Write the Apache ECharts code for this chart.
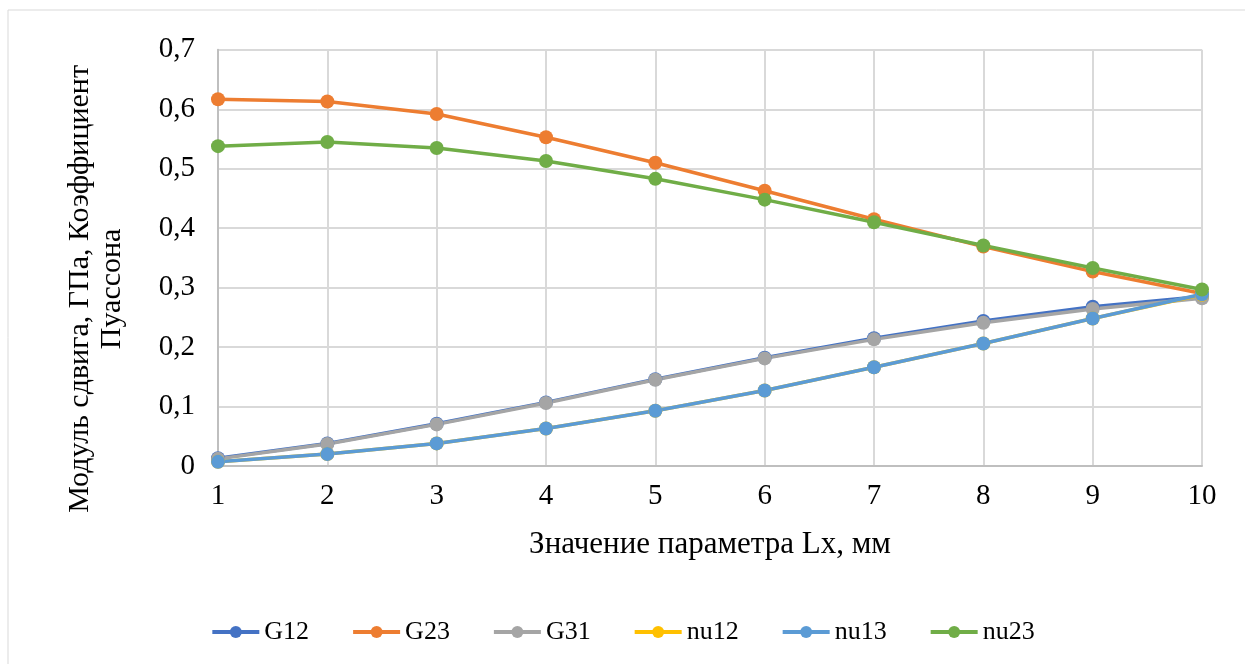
<!DOCTYPE html>
<html>
<head>
<meta charset="utf-8">
<script src="https://cdn.jsdelivr.net/npm/echarts@6/dist/echarts.min.js"></script>
<style>
  html, body { margin: 0; padding: 0; background: #fff; }
  #chart { width: 1245px; height: 664px; }
</style>
</head>
<body>
<div id="chart"></div>
<script>
// значения параметра Lx, мм
const lx = ['1', '2', '3', '4', '5', '6', '7', '8', '9', '10'];

const g12  = [0.013, 0.038, 0.071, 0.107, 0.146, 0.182, 0.215, 0.244, 0.268, 0.285];
const g23  = [0.617, 0.613, 0.592, 0.553, 0.510, 0.463, 0.415, 0.369, 0.327, 0.290];
const g31  = [0.012, 0.037, 0.070, 0.106, 0.145, 0.181, 0.213, 0.241, 0.264, 0.282];
const nu12 = [0.007, 0.020, 0.038, 0.063, 0.093, 0.127, 0.166, 0.206, 0.248, 0.288];
const nu13 = [0.007, 0.020, 0.038, 0.063, 0.093, 0.127, 0.166, 0.206, 0.248, 0.289];
const nu23 = [0.538, 0.545, 0.535, 0.513, 0.483, 0.448, 0.410, 0.371, 0.333, 0.297];

const names  = ['G12', 'G23', 'G31', 'nu12', 'nu13', 'nu23'];
const colors = ['#4472C4', '#ED7D31', '#A5A5A5', '#FFC000', '#5B9BD5', '#70AD47'];
const values = [g12, g23, g31, nu12, nu13, nu23];

const font = '"Liberation Serif", "Times New Roman", serif';

const chart = echarts.init(document.getElementById('chart'), null, { renderer: 'canvas' });

const option = {
  backgroundColor: '#fff',
  animation: false,
  color: colors,
  textStyle: { fontFamily: font },
  graphic: [{
    type: 'rect',
    shape: { x: 8, y: 10, width: 1250, height: 670 },
    style: { fill: 'none', stroke: '#D9D9D9', lineWidth: 1 },
    silent: true
  }],
  grid: { left: 218, right: 43, top: 45, bottom: 198 },
  legend: {
    bottom: 14,
    left: 'center',
    itemWidth: 47,
    itemHeight: 15,
    itemGap: 42,
    lineStyle: { width: 4 },
    textStyle: { fontFamily: font, fontSize: 26, color: '#000' },
    data: names
  },
  xAxis: {
    type: 'category',
    data: lx,
    boundaryGap: false,
    name: 'Значение параметра Lx, мм',
    nameLocation: 'middle',
    nameGap: 63,
    nameTextStyle: { fontFamily: font, fontSize: 31, color: '#000' },
    axisLine: { lineStyle: { color: '#BFBFBF', width: 2 } },
    axisTick: { show: false },
    axisLabel: { fontFamily: font, fontSize: 29, color: '#000', margin: 16 },
    splitLine: { show: true, lineStyle: { color: '#D9D9D9', width: 2 } }
  },
  yAxis: {
    type: 'value',
    min: 0,
    max: 0.7,
    interval: 0.1,
    name: 'Модуль сдвига, ГПа, Коэффициент\nПуассона',
    nameLocation: 'middle',
    nameGap: 90,
    nameRotate: 90,
    nameTextStyle: {
      fontFamily: font, fontSize: 30, color: '#000', lineHeight: 32,
      padding: [0, 62, 0, 0]
    },
    axisLine: { show: true, lineStyle: { color: '#BFBFBF', width: 2 } },
    axisTick: { show: false },
    axisLabel: {
      fontFamily: font, fontSize: 29, color: '#000', margin: 23,
      formatter: v => String(Math.round(v * 10) / 10).replace('.', ',')
    },
    splitLine: { show: true, lineStyle: { color: '#D9D9D9', width: 2 } }
  },
  series: names.map((n, i) => ({
    name: n,
    type: 'line',
    data: values[i],
    symbol: 'circle',
    symbolSize: 14,
    lineStyle: { width: 3.5, color: colors[i] },
    itemStyle: { color: colors[i] }
  }))
};

chart.setOption(option);
</script>
</body>
</html>
